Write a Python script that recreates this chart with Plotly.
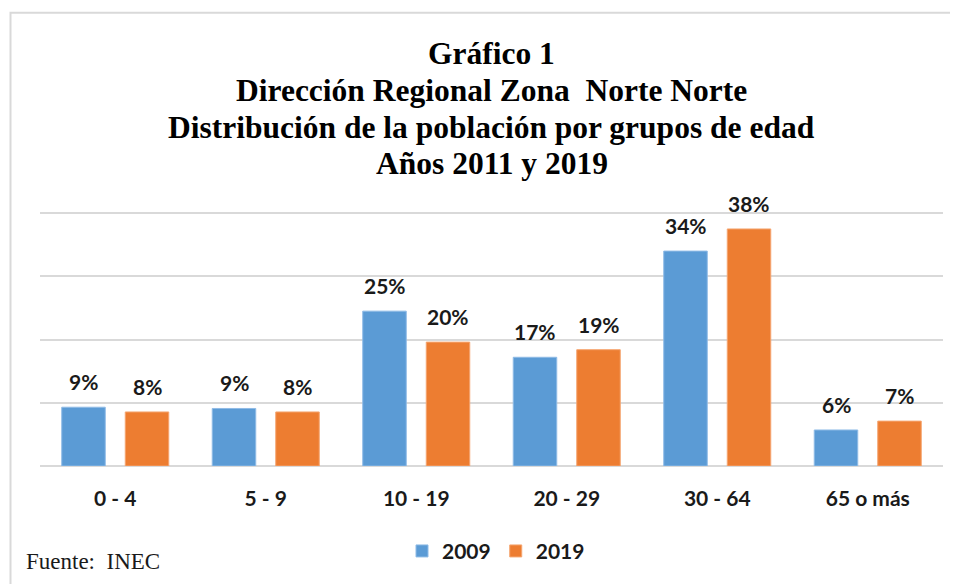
import plotly.graph_objects as go

categories = ["0 - 4", "5 - 9", "10 - 19", "20 - 29", "30 - 64", "65 o más"]
values_2009 = [9.3, 9.1, 24.5, 17.2, 34.0, 5.7]
values_2019 = [8.55, 8.55, 19.6, 18.4, 37.5, 7.1]
labels_2009 = ["9%", "9%", "25%", "17%", "34%", "6%"]
labels_2019 = ["8%", "8%", "20%", "19%", "38%", "7%"]
series_names = ["2009", "2019"]
title_lines = ["Gráfico 1", "Dirección Regional Zona  Norte Norte",
               "Distribución de la población por grupos de edad", "Años 2011 y 2019"]
source_text = "Fuente:  INEC"

# page body has an 8px margin: figure is drawn at (8, 8) in the window
OFF = 8
W, H = 958 - OFF, 584 - OFF
BASE = 466.5 - OFF          # baseline (value 0) in figure px
TOPV = 40.5                 # top of the value range
PXU = 253.5 / 40            # px per unit
plot_h = TOPV * PXU
L = 40 - OFF
R = W - (943 - OFF)
B = H - BASE
T = BASE - plot_h

def py(p):   # reference-window y pixel -> paper y
    return (BASE - (p - OFF)) / plot_h

def px(p):   # reference-window x pixel -> paper x
    return ((p - OFF) - L) / (W - L - R)

bold = dict(family="Lato", size=21, color="#1a1a1a", weight="bold")

fig = go.Figure()
fig.add_trace(go.Bar(
    x=categories, y=values_2009, name=series_names[0],
    marker=dict(color="#5B9BD5", line=dict(color="#8fbbe6", width=1)),
))
fig.add_trace(go.Bar(
    x=categories, y=values_2019, name=series_names[1],
    marker=dict(color="#ED7D31", line=dict(color="#f5a570", width=1)),
))

annotations = []
# data labels above each bar (offset left/right from the category centre)
bar_shift = 31.75
for vals, labs, sh in [(values_2009, labels_2009, -bar_shift), (values_2019, labels_2019, bar_shift)]:
    for c, v, t in zip(categories, vals, labs):
        annotations.append(dict(
            x=c, y=v, xref="x", yref="y", text="<b>" + t + "</b>", showarrow=False,
            xanchor="center", yanchor="bottom", xshift=sh, yshift=11,
            font=dict(family="Lato", size=21, color="#1a1a1a"),
        ))

baselines = [63, 100, 137, 173]
for line, b in zip(title_lines, baselines):
    annotations.append(dict(
        text="<b>" + line + "</b>", x=px(491.5), xref="paper", y=py(b - 10), yref="paper",
        xanchor="center", yanchor="middle", showarrow=False,
        font=dict(family="Liberation Serif", size=31.5, color="#000000"),
    ))
annotations.append(dict(
    text=source_text, x=px(24), xref="paper", y=py(562), yref="paper",
    xanchor="left", yanchor="middle", showarrow=False,
    font=dict(family="Liberation Serif", size=23, color="#1a1a1a"),
))

fig.update_layout(
    width=W, height=H,
    margin=dict(l=L, r=R, t=T, b=B, autoexpand=False),
    paper_bgcolor="white", plot_bgcolor="white",
    barmode="group", bargap=0.156, bargroupgap=0.315,
    showlegend=True,
    legend=dict(orientation="h", x=px(496), xanchor="center", xref="paper",
                y=py(552), yanchor="middle", font=bold,
                itemwidth=30, traceorder="normal"),
    annotations=annotations,
    shapes=[dict(type="rect", xref="paper", yref="paper",
                 x0=px(10.5), x1=px(975), y0=py(12), y1=py(600),
                 line=dict(color="#d9d9d9", width=2), fillcolor="rgba(0,0,0,0)",
                 layer="below")],
    xaxis=dict(showgrid=False, showline=False, ticks="",
               tickfont=bold, ticklabelstandoff=18),
    yaxis=dict(range=[0, TOPV], dtick=10, showgrid=True, gridcolor="#d9d9d9",
               gridwidth=1.5, showticklabels=False, zeroline=True,
               zerolinecolor="#d9d9d9", zerolinewidth=1.5, showline=False),
)

fig.write_html("out.html")
